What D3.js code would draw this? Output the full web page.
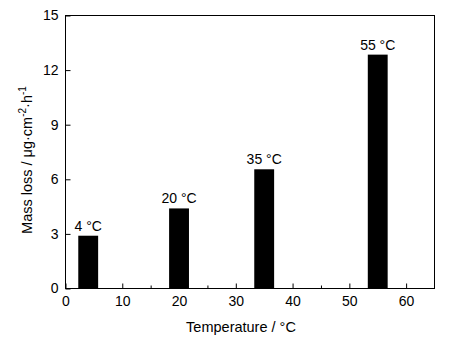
<!DOCTYPE html>
<html>
<head>
<meta charset="utf-8">
<script src="https://cdn.jsdelivr.net/npm/d3@7"></script>
<style>
  html, body { margin: 0; padding: 0; background: #fff; }
  svg { display: block; }
  text { font-family: "Liberation Sans", Arial, sans-serif; fill: #000; }
</style>
</head>
<body>
<svg id="chart" width="449" height="341"></svg>
<script>
// Mass loss rate at each test temperature
const temperatures = [4, 20, 35, 55];
const massLoss = [2.9, 4.4, 6.55, 12.85];
const barLabels = ["4 °C", "20 °C", "35 °C", "55 °C"];
const xTicks = [0, 10, 20, 30, 40, 50, 60];
const xMinorTicks = [5, 15, 25, 35, 45, 55];
const yTicks = [0, 3, 6, 9, 12, 15];

const svg = d3.select("#chart");
const margin = { left: 65.5, top: 15.5, right: 434.5, bottom: 288.5 };
const fontSize = 14;

const x = d3.scaleLinear().domain([0, 65]).range([margin.left, margin.right]);
const y = d3.scaleLinear().domain([0, 15]).range([margin.bottom, margin.top]);
const barWidth = 3.5; // in °C units

// bars
svg.append("g").selectAll("rect")
  .data(temperatures)
  .join("rect")
  .attr("x", (d) => x(d - barWidth / 2))
  .attr("width", (d) => x(barWidth) - x(0))
  .attr("y", (d, i) => y(massLoss[i]))
  .attr("height", (d, i) => y(0) - y(massLoss[i]))
  .attr("fill", "#000");

// bar labels
svg.append("g").selectAll("text")
  .data(temperatures)
  .join("text")
  .attr("x", (d) => x(d))
  .attr("y", (d, i) => y(massLoss[i]) - 5)
  .attr("text-anchor", "middle")
  .attr("font-size", fontSize)
  .text((d, i) => barLabels[i]);

// x axis: major ticks pointing inward, minor ticks between
const xAxis = svg.append("g")
  .attr("transform", `translate(0,${margin.bottom})`)
  .call(d3.axisBottom(x).tickValues(xTicks).tickSize(-5).tickPadding(8).tickFormat(d3.format("d")));
xAxis.select(".domain").remove();
xAxis.selectAll("text").attr("font-size", fontSize).attr("font-family", "Liberation Sans, Arial, sans-serif");
xAxis.selectAll("line").attr("stroke", "#000");

const xMinor = svg.append("g")
  .attr("transform", `translate(0,${margin.bottom})`)
  .call(d3.axisBottom(x).tickValues(xMinorTicks).tickSize(-3).tickFormat(""));
xMinor.select(".domain").remove();

// y axis
const yAxis = svg.append("g")
  .attr("transform", `translate(${margin.left},0)`)
  .call(d3.axisLeft(y).tickValues(yTicks).tickSize(-5).tickPadding(7).tickFormat(d3.format("d")));
yAxis.select(".domain").remove();
yAxis.selectAll("text").attr("font-size", fontSize).attr("font-family", "Liberation Sans, Arial, sans-serif");

// frame
svg.append("rect")
  .attr("x", margin.left)
  .attr("y", margin.top)
  .attr("width", margin.right - margin.left)
  .attr("height", margin.bottom - margin.top)
  .attr("fill", "none")
  .attr("stroke", "#000")
  .attr("stroke-width", 1);

// axis titles
svg.append("text")
  .attr("x", 241)
  .attr("y", 332)
  .attr("text-anchor", "middle")
  .attr("font-size", 14.5)
  .text("Temperature / °C");

const yTitle = svg.append("text")
  .attr("transform", `translate(32,160) rotate(-90)`)
  .attr("text-anchor", "middle")
  .attr("font-size", 14.5);
yTitle.append("tspan").text("Mass loss / μg·cm");
yTitle.append("tspan").attr("dy", -6).attr("font-size", 10).text("-2");
yTitle.append("tspan").attr("dy", 6).text("·h");
yTitle.append("tspan").attr("dy", -6).attr("font-size", 10).text("-1");
</script>
</body>
</html>
